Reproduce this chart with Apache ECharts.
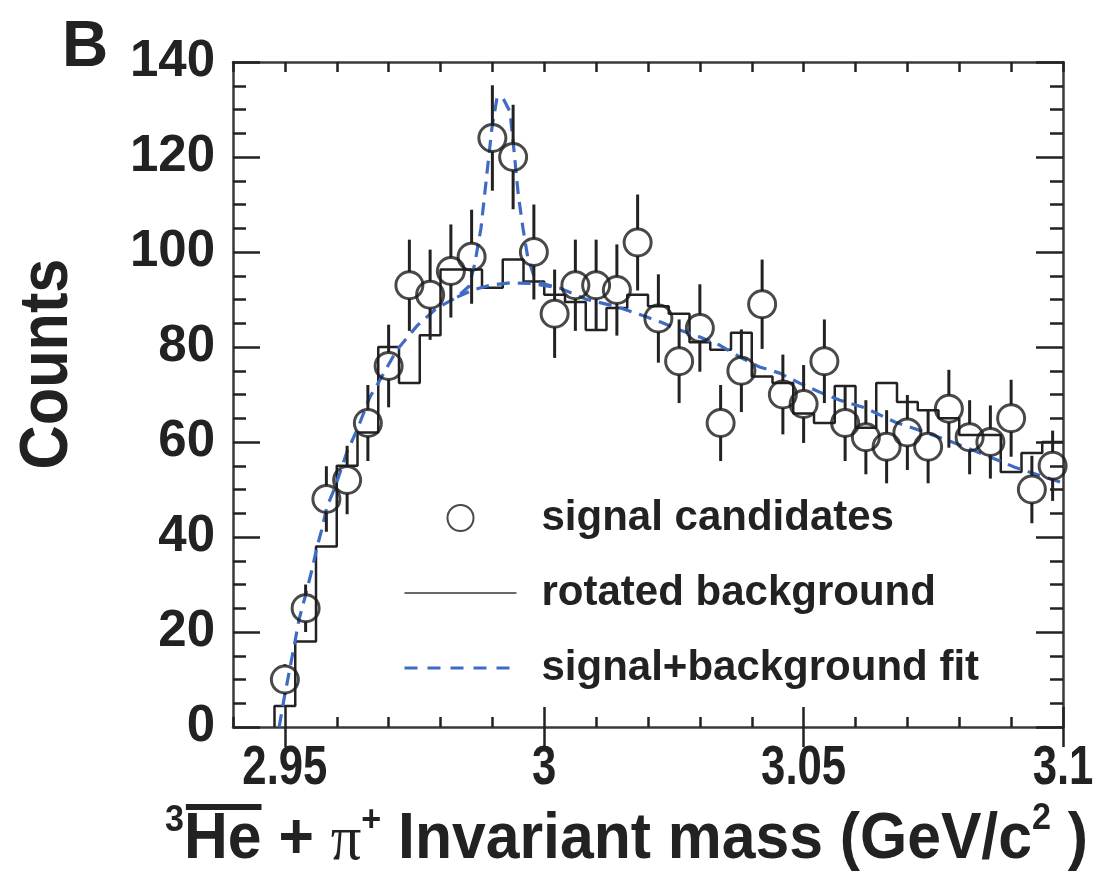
<!DOCTYPE html>
<html>
<head>
<meta charset="utf-8">
<script src="https://cdn.jsdelivr.net/npm/echarts@6/dist/echarts.min.js"></script>
<style>
html,body{margin:0;padding:0;background:#fff;}
#c{width:1099px;height:882px;}
</style>
</head>
<body>
<div id="c"></div>
<script>
// ---- data ----
const massBins = [2.950, 2.954, 2.958, 2.962, 2.966, 2.970, 2.974, 2.978, 2.982, 2.986,
                  2.990, 2.994, 2.998, 3.002, 3.006, 3.010, 3.014, 3.018, 3.022, 3.026,
                  3.030, 3.034, 3.038, 3.042, 3.046, 3.050, 3.054, 3.058, 3.062, 3.066,
                  3.070, 3.074, 3.078, 3.082, 3.086, 3.090, 3.094, 3.098];
const signalCounts = [10, 25, 48, 52, 64, 76, 93, 91, 96, 99,
                      124, 120, 100, 87, 93, 93, 92, 102, 86, 77,
                      84, 64, 75, 89, 70, 68, 77, 64, 61, 59,
                      62, 59, 67, 61, 60, 65, 50, 55];
const signalErrors = [3.2, 5.0, 6.9, 7.2, 8.0, 8.7, 9.6, 9.5, 9.8, 9.9,
                      11.1, 11.0, 10.0, 9.3, 9.6, 9.6, 9.6, 10.1, 9.3, 8.8,
                      9.2, 8.0, 8.7, 9.4, 8.4, 8.2, 8.8, 8.0, 7.8, 7.7,
                      7.9, 7.7, 8.2, 7.8, 7.7, 8.1, 7.1, 7.4];
const rotatedBackground = [4.4, 18, 38, 55, 62, 80, 72.4, 82.5, 96.3, 96.3,
                           92.5, 98.4, 93.8, 91, 89.5, 83.6, 88.2, 91, 88.6, 87,
                           81, 79.4, 83, 73.8, 72.4, 66, 64, 71.8, 63, 72.4,
                           68.4, 66.7, 65, 61.5, 61.5, 53.7, 57.7, 60];
const fitMass = [2.9489, 2.9498, 2.9508, 2.9519, 2.9527, 2.9539, 2.9552, 2.9562, 2.9571, 2.9581,
                 2.9595, 2.9606, 2.9620, 2.9639, 2.9664, 2.9683, 2.9716, 2.9756, 2.9793, 2.9832,
                 2.9855, 2.9866, 2.9878, 2.9889, 2.9899, 2.9909, 2.9920, 2.9934, 2.9942, 2.9950,
                 2.9959, 2.9968, 2.9980, 2.9992, 3.0030, 3.0082, 3.0140, 3.0198, 3.0223, 3.0261,
                 3.0300, 3.0338, 3.0377, 3.0415, 3.0454, 3.0492, 3.0531, 3.0570, 3.0618, 3.0676,
                 3.0733, 3.0791, 3.0849, 3.0907, 3.0965, 3.1000];
const fitCounts = [0, 5.7, 11.4, 17.7, 22.5, 27.4, 33, 37.9, 41.5, 46.3,
                   50, 53.5, 58, 62.5, 69.5, 73, 79.4, 84.6, 88.2, 90.5,
                   92.8, 97.5, 105, 116, 126, 132.5, 132.5, 129.5, 121, 112,
                   105, 99, 95, 93.5, 92.4, 90, 88.5, 86.3, 85.3, 83.6,
                   82.1, 80.4, 77.9, 75.8, 74.5, 72.4, 70.5, 68.8, 67.2, 64.2,
                   62.1, 59.8, 57.3, 54.7, 52.6, 51.4];
const bgFitMass = [2.9832, 2.9862, 2.9895, 2.9934, 2.9972, 3.0030];
const bgFitCounts = [90.5, 92.0, 93.0, 93.5, 93.4, 92.4];
const xTickLabels = [2.95, 3.0, 3.05, 3.1];
const yTickLabels = [0, 20, 40, 60, 80, 100, 120, 140];
const legendNames = ['signal candidates', 'rotated background', 'signal+background fit'];

// ---- build library data ----
const signalData = massBins.map((m, i) => [m, signalCounts[i]]);
const errorData = massBins.map((m, i) => [m, signalCounts[i], signalErrors[i]]);
const histData = [];
massBins.forEach((m, i) => {
  const prev = i > 0 ? massBins[i - 1] : null;
  const next = i < massBins.length - 1 ? massBins[i + 1] : null;
  const lo = prev !== null ? (m + prev) / 2 : m - (next - m) / 2;
  const hi = next !== null ? (m + next) / 2 : m + (m - prev) / 2;
  if (i === 0) histData.push([lo, 0]);
  histData.push([lo, rotatedBackground[i]]);
  histData.push([hi, rotatedBackground[i]]);
});
const fitData = fitMass.map((m, i) => [m, fitCounts[i]]);
const bgData = bgFitMass.map((m, i) => [m, bgFitCounts[i]]);

const INK = '#222222';
const FRAME = '#3a3a3a';
const BLUE = '#3f6cc2';
const SANS = '"Liberation Sans", Arial, Helvetica, sans-serif';
const BOLD = '"Liberation Sans", Arial, sans-serif';

const frameLine = {show: true, onZero: false, lineStyle: {color: FRAME, width: 2.5}};
const tickStyle = {color: INK, width: 2.5};

function xAxisCfg(position, major) {
  const cfg = {
    type: 'value', min: 2.94, max: 3.1, position: position, gridIndex: 0,
    axisLine: major ? {show: false} : frameLine,
    splitLine: {show: false},
    axisLabel: {show: false},
    axisPointer: {show: false}
  };
  if (major) {
    cfg.axisTick = {show: true, inside: true, length: 20, customValues: xTickLabels, lineStyle: tickStyle};
  } else {
    cfg.interval = 0.01;
    cfg.axisTick = {show: true, inside: true, length: 10, lineStyle: tickStyle};
  }
  return cfg;
}
function yAxisCfg(position, withLabels) {
  return {
    type: 'value', min: 0, max: 140, interval: 20, position: position, gridIndex: 0,
    axisLine: frameLine,
    axisTick: {show: true, inside: true, length: 27, lineStyle: tickStyle},
    minorTick: {show: true, splitNumber: 4, length: 13, lineStyle: tickStyle},
    splitLine: {show: false}, minorSplitLine: {show: false},
    axisLabel: withLabels ? {
      show: true, margin: 18, fontSize: 51, fontWeight: 'bold', fontFamily: SANS, color: INK,
      customValues: yTickLabels
    } : {show: false}
  };
}

// ---- x-axis title pieces (condensed look via horizontal scale) ----
const mctx = document.createElement('canvas').getContext('2d');
function tw(text, font) { mctx.font = font; return mctx.measureText(text).width; }
const mainFont = 'bold 64px ' + BOLD;
const supFont = 'bold 36px ' + BOLD;
const piFont = '64px "Liberation Serif", "DejaVu Serif", serif';
const pieces = [
  {t: '3', f: supFont, dy: -19},
  {t: 'He', f: mainFont, dy: 0, over: true},
  {t: ' + ', f: mainFont, dy: 0},
  {t: 'π', f: piFont, dy: 2},
  {t: '+', f: supFont, dy: -19},
  {t: ' Invariant mass (GeV/c', f: mainFont, dy: 0},
  {t: '2', f: supFont, dy: -21},
  {t: ' )', f: mainFont, dy: 0}
];
let cx = 0;
const titleChildren = [];
pieces.forEach(p => {
  const w = tw(p.t, p.f);
  titleChildren.push({type: 'text', x: cx, y: p.dy,
    style: {text: p.t, font: p.f, fill: INK, align: 'left', verticalAlign: 'middle'}});
  if (p.over) {
    titleChildren.push({type: 'rect', shape: {x: cx + 2, y: -36, width: w - 2, height: 6},
      style: {fill: INK}});
  }
  cx += w;
});
const titleScale = 923 / cx;

const baseGraphics = [
  {id: 'panel', type: 'text', x: 85, y: 48, style: {text: 'B', font: 'bold 64px ' + BOLD, fill: INK, align: 'center', verticalAlign: 'middle'}},
  {id: 'ytitle', type: 'text', x: 48, y: 364, rotation: Math.PI / 2, scaleX: 0.9,
   style: {text: 'Counts', font: 'bold 68px ' + BOLD, fill: INK, align: 'center', verticalAlign: 'middle'}},
  {id: 'xtitle', type: 'group', x: 165, y: 840, scaleX: titleScale, children: titleChildren}
];

const lineLegendItem = (name, lineStyle) => ({name: name, itemStyle: {opacity: 0, color: 'rgba(0,0,0,0)', borderWidth: 0}, lineStyle: lineStyle});

const option = {
  animation: false,
  backgroundColor: '#ffffff',
  grid: {left: 233, right: 36, top: 62, bottom: 155, containLabel: false, outerBoundsMode: 'none'},
  legend: {
    data: [
      {name: legendNames[0]},
      lineLegendItem(legendNames[1], {color: '#6a6a6a', width: 2}),
      lineLegendItem(legendNames[2], {color: BLUE, width: 3, type: [13, 10]})
    ],
    orient: 'vertical', left: 403, top: 497, itemGap: 33,
    itemWidth: 112, itemHeight: 26, padding: 0, selectedMode: false,
    textStyle: {fontSize: 42, fontWeight: 'bold', fontFamily: SANS, color: INK, padding: [0, 0, 0, 20]}
  },
  xAxis: [
    xAxisCfg('bottom', false),
    xAxisCfg('bottom', true),
    xAxisCfg('top', false),
    xAxisCfg('top', true)
  ],
  yAxis: [yAxisCfg('left', true), yAxisCfg('right', false)],
  series: [
    {
      name: 'rotated background', type: 'line', data: histData, symbol: 'none',
      lineStyle: {color: INK, width: 2.5}, z: 2, silent: true
    },
    {
      name: 'signal+background fit', type: 'line', data: fitData, symbol: 'none',
      lineStyle: {color: BLUE, width: 3.2, type: [13, 8]}, z: 3, silent: true
    },
    {
      name: 'background component of fit', type: 'line', data: bgData, symbol: 'none',
      lineStyle: {color: BLUE, width: 3.2, type: [13, 8]}, z: 3, silent: true
    },
    {
      name: 'statistical errors', type: 'custom', data: errorData, z: 4, silent: true,
      renderItem: function (params, api) {
        const x = api.value(0), y = api.value(1), e = api.value(2);
        const pc = api.coord([x, y]);
        const pt = api.coord([x, y + e]);
        const pb = api.coord([x, y - e]);
        const r = 13.5;
        const kids = [];
        if (pc[1] - pt[1] > r) kids.push({type: 'line', shape: {x1: pc[0], y1: pt[1], x2: pc[0], y2: pc[1] - r},
          style: {stroke: INK, lineWidth: 3}});
        if (pb[1] - pc[1] > r) kids.push({type: 'line', shape: {x1: pc[0], y1: pc[1] + r, x2: pc[0], y2: pb[1]},
          style: {stroke: INK, lineWidth: 3}});
        return {type: 'group', children: kids};
      }
    },
    {
      name: 'signal candidates', type: 'scatter', data: signalData, symbol: 'circle', symbolSize: 27,
      itemStyle: {color: 'rgba(255,255,255,0)', borderColor: '#1c1c1c', borderWidth: 3}, z: 5, silent: true
    }
  ],
  graphic: baseGraphics
};

const chart = echarts.init(document.getElementById('c'), null, {renderer: 'canvas', width: 1099, height: 882});
chart.setOption(option);

// x tick labels, placed with the axis scale, drawn condensed like the original figure
const fmtMass = v => String(parseFloat(Number(v).toFixed(2)));
const xLabelGraphics = xTickLabels.map((v, i) => ({
  id: 'xlab' + i, type: 'text',
  x: chart.convertToPixel({xAxisIndex: 0}, v), y: 769, scaleX: 0.78,
  style: {text: fmtMass(v), font: 'bold 56px ' + BOLD, fill: INK, align: 'center', verticalAlign: 'middle'}
}));
chart.setOption({graphic: baseGraphics.concat(xLabelGraphics)});
</script>
</body>
</html>
